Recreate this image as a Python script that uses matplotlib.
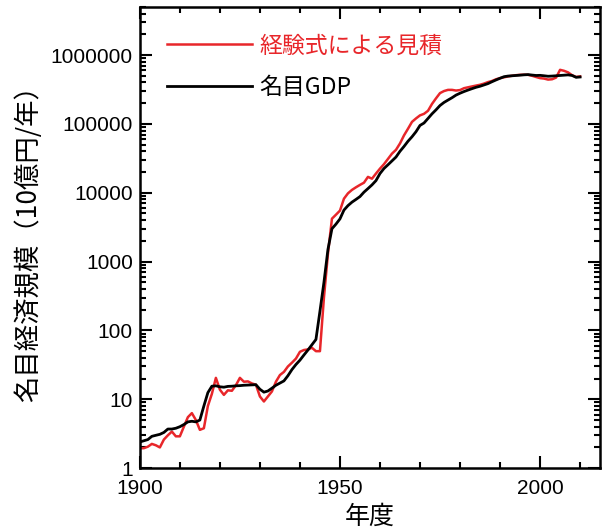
import matplotlib
matplotlib.use("Agg")
import matplotlib.pyplot as plt
from matplotlib.ticker import LogLocator, FixedLocator, NullFormatter, FixedFormatter

plt.rcParams['font.family'] = ['Liberation Sans', 'Noto Sans CJK JP', 'DejaVu Sans']

years = list(range(1900, 2011))

## 名目GDP (black)
gdp = [2.4, 2.5, 2.6, 2.9, 3.0, 3.1, 3.3, 3.7, 3.7, 3.8,
       4.0, 4.3, 4.7, 4.8, 4.7, 5.0, 8.0, 12.5, 15.5, 15.7,
       15.2, 15.0, 15.4, 15.5, 15.7, 15.8, 16.0, 16.1, 16.2, 16.3,
       14.0, 12.7, 13.2, 14.5, 16.0, 17.2, 18.5, 22.0, 27.0, 32.0,
       37.0, 44.0, 52.0, 62.0, 74.0, 190, 500, 1500, 3000, 3500,
       4170, 5600, 6500, 7300, 8000, 8800, 10200, 11500, 13000, 15000,
       19000, 22500, 25500, 29000, 33000, 40000, 47000, 56000, 65000, 77000,
       95000, 103000, 120000, 140000, 160000, 185000, 205000, 222000, 240000, 262000,
       279000, 295000, 310000, 325000, 340000, 352000, 368000, 385000, 410000, 435000,
       460000, 485000, 495000, 500000, 505000, 510000, 516000, 520000, 512000, 505000,
       507000, 500000, 492000, 495000, 500000, 505000, 510000, 515000, 505000, 475000,
       480000]

## 経験式による見積 (red)
est = [1.95, 1.95, 2.05, 2.25, 2.15, 2.0, 2.6, 3.0, 3.4, 2.9,
       2.9, 4.0, 5.5, 6.3, 5.0, 3.6, 3.8, 8.0, 12.0, 20.5,
       13.8, 11.6, 13.5, 13.3, 16.0, 20.5, 18.0, 18.2, 17.0, 16.3,
       11.0, 9.3, 11.0, 13.0, 18.0, 22.5, 25.0, 30.0, 34.0, 39.0,
       49.0, 52.0, 53.0, 56.0, 50.0, 50.0, 300, 1300, 4200, 4800,
       5500, 8200, 9800, 11000, 12000, 13000, 14000, 17000, 16000, 19000,
       22400, 26000, 31000, 37000, 42000, 52000, 68000, 85000, 107000, 120000,
       133000, 140000, 155000, 195000, 235000, 280000, 300000, 312000, 312000, 305000,
       310000, 330000, 340000, 350000, 360000, 370000, 385000, 405000, 420000, 445000,
       462000, 475000, 489000, 500000, 510000, 516000, 518000, 516000, 500000, 480000,
       462000, 455000, 440000, 445000, 470000, 610000, 590000, 560000, 510000, 480000,
       490000]

y_ticks = [1, 10, 100, 1000, 10000, 100000, 1000000]
y_tick_labels = ["1", "10", "100", "1000", "10000", "100000", "1000000"]
x_ticks = [1900, 1950, 2000]

fig = plt.figure(figsize=(6.08, 5.32), dpi=100)
ax = fig.add_axes([0.230, 0.120, 0.757, 0.867])

ax.plot(years, est, c="#e8262a", lw=1.8, label="経験式による見積")
ax.plot(years, gdp, c="black", lw=2.0, label="名目GDP")

ax.set_yscale("log")
ax.set_ylim(1, 5e6)
ax.set_xlim(1900, 2015)

ax.yaxis.set_major_locator(FixedLocator(y_ticks))
ax.yaxis.set_major_formatter(FixedFormatter(y_tick_labels))
ax.yaxis.set_minor_locator(LogLocator(base=10, subs=range(2, 10), numticks=20))
ax.yaxis.set_minor_formatter(NullFormatter())
ax.set_xticks(x_ticks)
ax.set_xticks(range(1900, 2016, 10), minor=True)

ax.tick_params(axis="both", which="both", direction="in", top=True, right=True, width=1.5)
ax.tick_params(axis="both", which="major", length=8.5, labelsize=15)
ax.tick_params(axis="both", which="minor", length=4.5)
ax.tick_params(axis="x", which="major", pad=8)
ax.tick_params(axis="y", which="major", pad=5)
for s in ax.spines.values():
    s.set_linewidth(1.8)

ax.set_xlabel("年度", fontsize=18, family=['Noto Sans CJK JP'], labelpad=4)
ax.set_ylabel("名目経済規模（10億円/年）", fontsize=19, family=['Noto Sans CJK JP'], labelpad=6)

leg = ax.legend(loc="upper left", frameon=False, handlelength=3.7,
                prop={'family': ['Noto Sans CJK JP'], 'size': 16.5},
                borderaxespad=0.8, labelspacing=0.8, handletextpad=0.3)
leg.get_texts()[0].set_color("#e8262a")

fig.savefig("out.png", dpi=100)
